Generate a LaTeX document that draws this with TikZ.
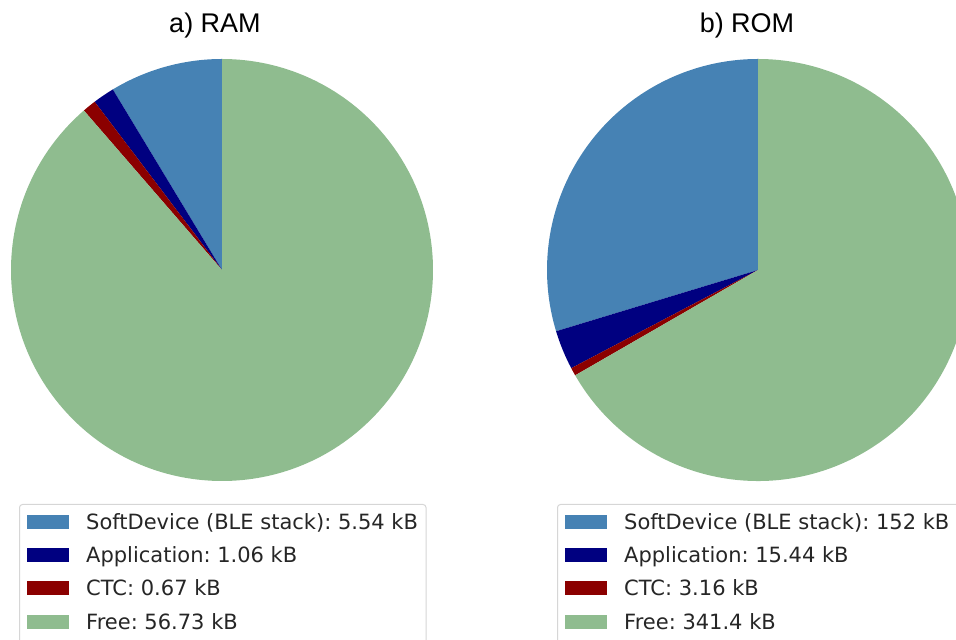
\documentclass[tikz,border=0pt]{standalone}
\usepackage{fontspec}
\setmainfont{DejaVu Sans}
\newfontfamily\titlefont{Liberation Sans}
\definecolor{softdev}{RGB}{70,130,180}
\definecolor{appl}{RGB}{0,0,128}
\definecolor{ctc}{RGB}{139,0,0}
\definecolor{freemem}{RGB}{143,188,143}
\definecolor{legframe}{RGB}{214,214,214}
\definecolor{legtext}{RGB}{38,38,38}

% wedge: colour, centre, start angle, end angle, radius
\newcommand\piewedge[5]{\fill[#1] (#2) -- ++(#3:#5) arc[start angle=#3, end angle=#4, radius=#5] -- cycle;}

\tikzset{
  charttitle/.style={font=\titlefont\fontsize{27}{27}\selectfont, text=black, anchor=base, inner sep=0pt},
  legframebox/.style={draw=legframe, line width=1pt, rounded corners=3pt, fill=white},
  legpatch/.style={minimum width=42pt, minimum height=14pt, inner sep=0pt, outer sep=0pt},
  legentry/.style={font=\fontsize{21}{21}\selectfont, text=legtext, anchor=base west, inner sep=0pt},
}

\begin{document}
\frenchspacing
\begin{tikzpicture}[x=1pt,y=1pt]
\useasboundingbox (0,0) rectangle (956,640);
\clip (0,0) rectangle (956,640);

% ---- RAM pie (total 64 kB) ----
\coordinate (ca) at (222,370);
\piewedge{softdev}{ca}{90}{121.1625}{211}
\piewedge{appl}{ca}{121.1625}{127.125}{211}
\piewedge{ctc}{ca}{127.125}{130.89375}{211}
\piewedge{freemem}{ca}{130.89375}{450}{211}
\node[charttitle] (ta) at (215,607) {a) RAM};

% ---- ROM pie (total 512 kB) ----
\coordinate (cb) at (758,370);
\piewedge{softdev}{cb}{90}{196.875}{211}
\piewedge{appl}{cb}{196.875}{207.73125}{211}
\piewedge{ctc}{cb}{207.73125}{209.953125}{211}
\piewedge{freemem}{cb}{209.953125}{450}{211}
\node[charttitle] (tb) at (747,607) {b) ROM};

% ---- legend for RAM ----
\draw[legframebox] (19.5,135.5) rectangle (426,-10);
\node[legpatch, fill=softdev] (pa1) at (48.2,118) {};
\node[legpatch, fill=appl]    (pa2) at (48.2,84.7) {};
\node[legpatch, fill=ctc]     (pa3) at (48.2,51.5) {};
\node[legpatch, fill=freemem] (pa4) at (48.2,18.3) {};
\node[legentry] (la1) at (86,110.5) {SoftDevice (BLE stack): 5.54 kB};
\node[legentry] (la2) at (86,77.2) {Application: 1.06 kB};
\node[legentry] (la3) at (86,44) {CTC: 0.67 kB};
\node[legentry] (la4) at (86,10.8) {Free: 56.73 kB};

% ---- legend for ROM ----
\draw[legframebox] (557.5,135.5) rectangle (975,-10);
\node[legpatch, fill=softdev] (pb1) at (586,118) {};
\node[legpatch, fill=appl]    (pb2) at (586,84.7) {};
\node[legpatch, fill=ctc]     (pb3) at (586,51.5) {};
\node[legpatch, fill=freemem] (pb4) at (586,18.3) {};
\node[legentry] (lb1) at (624,110.5) {SoftDevice (BLE stack): 152 kB};
\node[legentry] (lb2) at (624,77.2) {Application: 15.44 kB};
\node[legentry] (lb3) at (624,44) {CTC: 3.16 kB};
\node[legentry] (lb4) at (624,10.8) {Free: 341.4 kB};
\end{tikzpicture}
\end{document}
